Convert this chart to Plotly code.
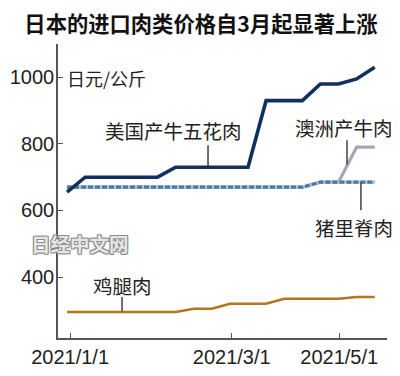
import plotly.graph_objects as go

# ---- data ----
period = list(range(18))  # observation index
us_beef = [655, 700, 700, 700, 700, 700, 730, 730, 730, 730, 730, 930, 930, 930, 980, 980, 995, 1030]
pork = [670, 670, 670, 670, 670, 670, 670, 670, 670, 670, 670, 670, 670, 670, 685, 685, 685, 685]
aus_beef = [670, 670, 670, 670, 670, 670, 670, 670, 670, 670, 670, 670, 670, 670, 685, 685, 790, 790]
chicken = [295, 295, 295, 295, 295, 295, 295, 305, 305, 320, 320, 320, 335, 335, 335, 335, 340, 340]

tick_pos = [0.17, 9.1, 15.04]
tick_text = ["2021/1/1", "2021/3/1", "2021/5/1"]
y_ticks = [400, 600, 800, 1000]

title = "日本的进口肉类价格自3月起显著上涨"
unit = "日元/公斤"
labels = {"us": "美国产牛五花肉", "aus": "澳洲产牛肉", "pork": "猪里脊肉", "chicken": "鸡腿肉"}

CJK = "Noto Sans CJK SC, Noto Sans, sans-serif"
NUM = "Liberation Sans Narrow, Arial Narrow, Liberation Sans, sans-serif"
TXT = "#222222"
AX = "#555555"

# page body has an 8px margin, so the figure is 8px smaller and everything is offset
W, H = 392, 368

fig = go.Figure()
fig.add_trace(go.Scatter(x=period, y=aus_beef, mode="lines",
                         line=dict(color="#a4a7ba", width=3.2), hoverinfo="skip"))
fig.add_trace(go.Scatter(x=period, y=pork, mode="lines",
                         line=dict(color="#b3c6da", width=3.2), hoverinfo="skip"))
fig.add_trace(go.Scatter(x=period, y=pork, mode="lines",
                         line=dict(color="#4b78a4", width=3.2, dash="5px,2px"), hoverinfo="skip"))
fig.add_trace(go.Scatter(x=period, y=us_beef, mode="lines",
                         line=dict(color="#12305e", width=3.6), hoverinfo="skip"))
fig.add_trace(go.Scatter(x=period, y=chicken, mode="lines",
                         line=dict(color="#b5741e", width=2.6), hoverinfo="skip"))

# leader lines
leaders = [
    (7.79, 796, 732),
    (15.47, 811, 738),
    (16.24, 683, 601),
    (3.04, 340, 297),
]
for x, y0, y1 in leaders:
    fig.add_shape(type="line", xref="x", yref="y", x0=x, x1=x, y0=y0, y1=y1,
                  line=dict(color="#222222", width=1.3))

ann_font = dict(family=CJK, size=19.5, color=TXT)
fig.add_annotation(x=5.88, y=839, xref="x", yref="y", text=labels["us"], showarrow=False,
                   font=ann_font, xanchor="center", yanchor="middle")
fig.add_annotation(x=15.33, y=850, xref="x", yref="y", text=labels["aus"], showarrow=False,
                   font=ann_font, xanchor="center", yanchor="middle")
fig.add_annotation(x=15.86, y=550, xref="x", yref="y", text=labels["pork"], showarrow=False,
                   font=ann_font, xanchor="center", yanchor="middle")
fig.add_annotation(x=3.07, y=376, xref="x", yref="y", text=labels["chicken"], showarrow=False,
                   font=ann_font, xanchor="center", yanchor="middle")
fig.add_annotation(x=-0.11, y=997, xref="x", yref="y", text=unit, showarrow=False,
                   font=dict(family=CJK, size=18, color=TXT), xanchor="left", yanchor="middle")
# watermark
fig.add_annotation(x=0.72, y=502, xref="x", yref="y", text="日经中文网", showarrow=False,
                   font=dict(family=CJK, size=19.5, color="#e6e6e6", weight="bold",
                             shadow="-1px -1px 0 #8a8a8a, 1px -1px 0 #8a8a8a, -1px 1px 0 #8a8a8a, 1px 1px 0 #8a8a8a"),
                   xanchor="center", yanchor="middle")

fig.update_layout(
    width=W, height=H,
    margin=dict(l=50, r=13, t=36, b=38),
    paper_bgcolor="white", plot_bgcolor="white",
    showlegend=False,
    title=dict(text=title, x=193 / W, xref="container", y=1 - 17 / H, yref="container",
               xanchor="center", yanchor="middle",
               font=dict(family=CJK, size=21.3, color="#111111", weight="bold")),
    xaxis=dict(range=[-0.5, 17.68], tickvals=tick_pos, ticktext=tick_text, automargin=False,
               showline=True, linecolor=AX, linewidth=1.5, showgrid=False, zeroline=False,
               ticks="inside", ticklen=5, tickcolor=AX, tickwidth=1.2,
               tickfont=dict(family=NUM, size=20, color=TXT)),
    yaxis=dict(range=[217, 1100], tickvals=y_ticks, automargin=False,
               showline=True, linecolor=AX, linewidth=1.5, showgrid=False, zeroline=False,
               ticks="inside", ticklen=5, tickcolor=AX, tickwidth=1.2, ticklabelstandoff=-2,
               tickfont=dict(family=NUM, size=20, color=TXT)),
)

fig.write_html("out.html")
